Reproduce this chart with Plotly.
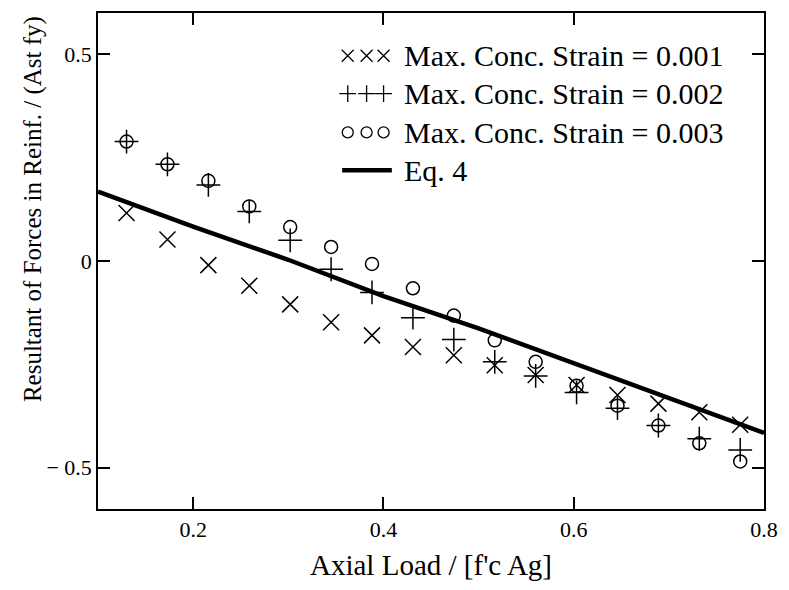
import plotly.graph_objects as go

# ---- data ----
axial_load = [0.130, 0.173, 0.216, 0.259, 0.302, 0.345, 0.388, 0.431,
              0.474, 0.517, 0.560, 0.603, 0.646, 0.689, 0.732, 0.775]
strain_001 = [0.116, 0.052, -0.010, -0.060, -0.105, -0.148, -0.180, -0.208,
              -0.228, -0.252, -0.276, -0.300, -0.324, -0.345, -0.366, -0.396]
strain_002 = [0.289, 0.234, 0.184, 0.120, 0.050, -0.020, -0.076, -0.137,
              -0.190, -0.244, -0.278, -0.318, -0.356, -0.398, -0.430, -0.457]
strain_003 = [0.289, 0.234, 0.194, 0.132, 0.082, 0.034, -0.007, -0.066,
              -0.132, -0.192, -0.244, -0.302, -0.350, -0.398, -0.441, -0.485]
eq4_x = [0.1, 0.2, 0.3, 0.4, 0.5, 0.6, 0.7, 0.8]
eq4_y = [0.168, 0.083, 0.003, -0.085, -0.163, -0.248, -0.333, -0.416]

series_names = ["Max. Conc. Strain = 0.001", "Max. Conc. Strain = 0.002",
                "Max. Conc. Strain = 0.003", "Eq. 4"]
x_tickvals = [0.2, 0.4, 0.6, 0.8]
x_ticktext = ["0.2", "0.4", "0.6", "0.8"]
y_tickvals = [0.5, 0, -0.5]
y_ticktext = ["0.5", "0", "\u2212 0.5"]
x_title = "Axial Load / [f'c Ag]"
y_title = "Resultant of Forces in Reinf. / (Ast fy)"

FONT = "Liberation Serif"
BLACK = "#000000"

symbols = ["x-thin-open", "cross-thin-open", "circle-open"]
sizes = [16, 17, 13]
series = [strain_001, strain_002, strain_003]

fig = go.Figure()
for name, ys, sym, sz in zip(series_names[:3], series, symbols, sizes):
    fig.add_trace(go.Scatter(
        x=axial_load, y=ys, mode="markers", name=name, showlegend=False,
        marker=dict(symbol=sym, size=sz, color=BLACK,
                    line=dict(color=BLACK, width=1.5))))
fig.add_trace(go.Scatter(x=eq4_x, y=eq4_y, mode="lines", name=series_names[3],
                         showlegend=False, line=dict(color=BLACK, width=4.5)))

# ---- custom legend (three symbols per entry, like the reference) ----
leg_rows = [0.9137, 0.8375, 0.7592, 0.6830]
leg_sym_x = [0.375, 0.4033, 0.4288]
leg_sizes = [12, 12, 11]
for row, sym, sz in zip(leg_rows[:3], symbols, leg_sizes):
    fig.add_trace(go.Scatter(
        x=leg_sym_x, y=[row] * 3, xaxis="x2", yaxis="y2", mode="markers",
        showlegend=False, hoverinfo="skip",
        marker=dict(symbol=sym, size=sz, color=BLACK,
                    line=dict(color=BLACK, width=1.3))))
fig.add_trace(go.Scatter(
    x=[0.3666, 0.4412], y=[leg_rows[3]] * 2, xaxis="x2", yaxis="y2",
    mode="lines", showlegend=False, hoverinfo="skip",
    line=dict(color=BLACK, width=4.5)))

annotations = []
for row, name in zip(leg_rows, series_names):
    annotations.append(dict(x=0.4572, y=row, xref="paper", yref="paper",
                            text=name, showarrow=False, xanchor="left",
                            yanchor="middle",
                            font=dict(family=FONT, size=30, color=BLACK)))
annotations.append(dict(x=-0.0973, y=0.605, xref="paper", yref="paper",
                        text=y_title, showarrow=False, textangle=-90,
                        xanchor="center", yanchor="middle",
                        font=dict(family=FONT, size=25, color=BLACK)))

axis_common = dict(showgrid=False, zeroline=False, showline=True,
                   linecolor=BLACK, linewidth=1.5, mirror="ticks",
                   ticks="inside", ticklen=12, tickwidth=1.5,
                   tickcolor=BLACK,
                   tickfont=dict(family=FONT, size=22, color=BLACK))

fig.update_layout(
    width=789, height=590,
    margin=dict(l=98, r=21, t=11, b=81),
    paper_bgcolor="white", plot_bgcolor="white",
    showlegend=False,
    font=dict(family=FONT, color=BLACK),
    xaxis=dict(range=[0.1, 0.8], tickvals=x_tickvals, ticktext=x_ticktext,
               title=dict(text=x_title, standoff=14,
                          font=dict(family=FONT, size=29, color=BLACK)),
               **axis_common),
    yaxis=dict(range=[-0.6, 0.6], tickvals=y_tickvals, ticktext=y_ticktext,
               **axis_common),
    xaxis2=dict(overlaying="x", range=[0, 1], visible=False),
    yaxis2=dict(overlaying="y", range=[0, 1], visible=False),
    annotations=annotations,
)

fig.write_html("out.html",
               config={"displayModeBar": False},
               post_script="document.body.style.margin='0px';")
